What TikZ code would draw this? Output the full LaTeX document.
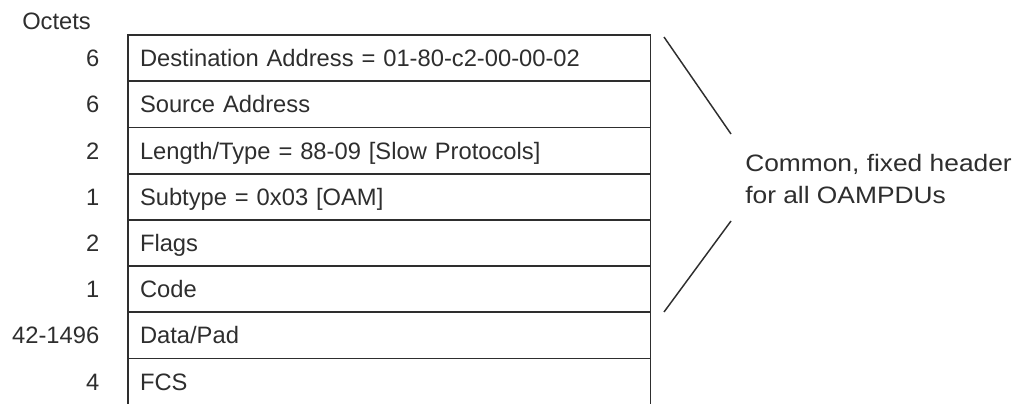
\documentclass[tikz,border=0pt]{standalone}
\usepackage{fontspec}
\usepackage{graphicx}
\setmainfont{Liberation Sans}
\definecolor{ink}{HTML}{2E2E2E}
\newcommand{\widetext}[1]{\scalebox{1.11}[1]{#1}}
\begin{document}
\begin{tikzpicture}[x=0.75pt,y=-0.75pt,
  font=\fontsize{17.8}{21}\selectfont,
  every node/.style={text=ink},
  field/.style={draw=ink, line width=1.2pt, anchor=north west, outer sep=0pt,
    inner xsep=9pt, inner ysep=0pt, text width=374pt, align=left,
    minimum height=34.7pt, text height=12.75pt, text depth=0pt},
  lastfield/.style={field, draw=none},
  count/.style={anchor=east, inner sep=0pt, text height=12.75pt, text depth=0pt},
  rule/.style={draw=ink, line width=1.2pt},
  hdr/.style={anchor=base west, inner sep=0pt},
  brace/.style={draw=ink, line width=1.1pt}]
\useasboundingbox (0,0) rectangle (1016,403);

\node[anchor=base west, inner sep=0pt] (oct) at (22,29.3) {Octets};

\node[field] (f1) at (128,35)    {Destination Address = 01-80-c2-00-00-02};
\node[field] (f2) at (128,81.3)  {Source Address};
\node[field] (f3) at (128,127.5) {Length/Type = 88-09 [Slow Protocols]};
\node[field] (f4) at (128,173.6) {Subtype = 0x03 [OAM]};
\node[field] (f5) at (128,219.8) {Flags};
\node[field] (f6) at (128,266)   {Code};
\node[field] (f7) at (128,312.2) {Data/Pad};
\node[lastfield] (f8) at (128,358.4) {FCS};
\coordinate (bl) at (f8.west |- 0,404);
\coordinate (br) at (f8.east |- 0,404);
\draw[rule] (f8.north west) -- (bl);
\draw[rule] (f8.north east) -- (br);

\node[count] (c1) at (99.5,0 |- f1.center) {6};
\node[count] (c2) at (99.5,0 |- f2.center) {6};
\node[count] (c3) at (99.5,0 |- f3.center) {2};
\node[count] (c4) at (99.5,0 |- f4.center) {1};
\node[count] (c5) at (99.5,0 |- f5.center) {2};
\node[count] (c6) at (99.5,0 |- f6.center) {1};
\node[count] (c7) at (99.5,0 |- f7.center) {42-1496};
\node[count] (c8) at (99.5,0 |- f8.center) {4};

\node[hdr] (h1) at (745,171.7) {\widetext{Common, fixed header}};
\node[hdr] (h2) at (745,203) {\widetext{for all OAMPDUs}};

\coordinate (ua) at (664,37);
\coordinate (ub) at (731,134);
\coordinate (la) at (731,221);
\coordinate (lb) at (664,312);
\draw[brace] (ua) -- (ub);
\draw[brace] (la) -- (lb);
\end{tikzpicture}
\end{document}
